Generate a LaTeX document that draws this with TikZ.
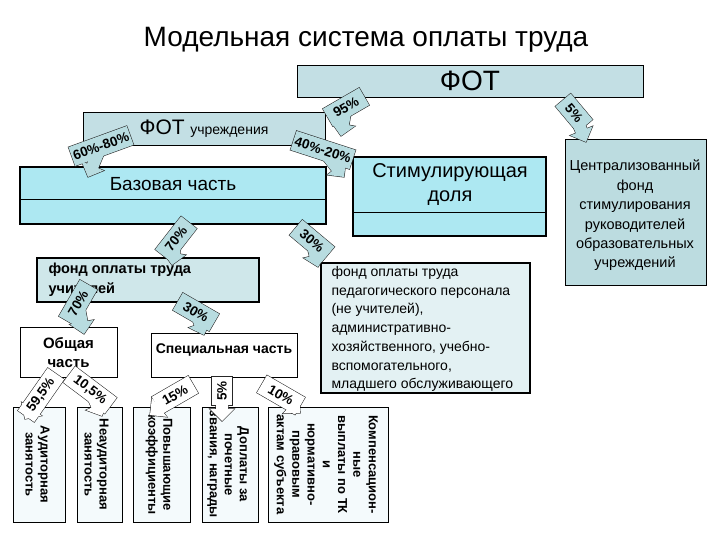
\documentclass[tikz,border=0pt]{standalone}
\usepackage{fontspec}
\setmainfont{Liberation Sans}
\usetikzlibrary{calc}
\definecolor{fotfill}{HTML}{C3DFE4}
\definecolor{basefill}{HTML}{ADE8F2}
\definecolor{centrfill}{HTML}{BCDCE0}
\definecolor{teachfill}{HTML}{CFE7EA}
\definecolor{pedfill}{HTML}{E3F1F3}
\definecolor{botfill}{HTML}{F4FAFC}
\definecolor{arrfill}{HTML}{B8DCE0}
\newcommand\fs[2]{\fontsize{#1}{#2}\selectfont}
\tikzset{
  thinbox/.style={draw=black, line width=0.8pt, inner sep=0pt},
  thickbox/.style={draw=black, line width=2pt, inner sep=0pt},
  pct/.style={font=\bfseries\fs{13.5}{15}, inner sep=0pt},
  vtext/.style={font=\bfseries\fs{13}{15}, align=center, rotate=-90, inner sep=0pt},
}
\newcommand\coshape[4]{%
  \path[#4, shift={(#1c)}, rotate=#2] (-#3,-10) rectangle (#3,10);
  \path[#4] ($(#1c)!6pt!90:(#1t)$) -- ($(#1h)!6pt!90:(#1t)$) -- ($(#1h)!12pt!90:(#1t)$) -- (#1t)
     -- ($(#1h)!12pt!-90:(#1t)$) -- ($(#1h)!6pt!-90:(#1t)$) -- ($(#1c)!6pt!-90:(#1t)$) -- cycle;
}
\newcommand\callout[7]{%
  \coordinate (#1c) at #2;
  \coordinate (#1t) at #4;
  \coordinate (#1h) at ($(#1t)!12pt!(#1c)$);
  \coshape{#1}{#3}{#5}{draw=black!85,line width=1.1pt}
  \coshape{#1}{#3}{#5}{fill=#7}
  \node[pct, rotate=#3] (#1) at (#1c) {#6};
}
\begin{document}
\begin{tikzpicture}[x=1pt, y=-1pt]
\useasboundingbox (0,0) rectangle (720,540);
\fill[white] (0,0) rectangle (720,540);

% title
\node[font=\fs{28}{32}] (title) at (366,40) {Модельная система оплаты труда};

% FOT
\node[thinbox, fill=fotfill, minimum width=346pt, minimum height=32pt] (fot) at (470,81) {\fs{28}{30}ФОТ};
\node[thinbox, fill=fotfill, minimum width=242pt, minimum height=33pt] (foty) at (204,128.5) {{\fs{21}{23}ФОТ}\ \ {\fs{14}{16}учреждения}};

% base part
\node[thickbox, fill=basefill, minimum width=306pt, minimum height=57pt] (base) at (173,195.5) {};
\draw[line width=0.8pt] (20,199) -- (326,199);
\node[font=\fs{19}{22}] (baset) at (173,184) {Базовая часть};

% stimulating
\node[thickbox, fill=basefill, minimum width=193pt, minimum height=79pt] (stim) at (449.5,196.5) {};
\draw[line width=0.8pt] (353,212) -- (546,212);
\node[font=\fs{20}{24}, align=center] (stimt) at (450,185) {Стимулирующая\\доля};

% centralized
\node[thinbox, fill=centrfill, minimum width=141pt, minimum height=146pt] (centr) at (635.5,212) {};
\node[font=\fs{14.5}{19.4}, align=center] (centrt) at (635,215.5) {Централизованный\\фонд\\стимулирования\\руководителей\\образовательных\\учреждений};

% teachers fund
\node[thickbox, fill=teachfill, minimum width=222pt, minimum height=44pt] (teach) at (148,280) {};
\node[font=\bfseries\fs{14.5}{20}, align=left, anchor=west] (teacht) at (45,280) {фонд оплаты труда\\учителей};

% pedagogical staff fund
\node[thickbox, fill=pedfill, minimum width=209pt, minimum height=130pt] (ped) at (425.5,328) {};
\node[font=\fs{14}{18.7}, align=left, anchor=west] (pedt) at (328,329) {фонд оплаты труда\\педагогического персонала\\(не учителей),\\административно-\\хозяйственного, учебно-\\вспомогательного,\\младшего обслуживающего};

% general / special
\node[thinbox, fill=white, minimum width=97pt, minimum height=50pt] (gen) at (68.5,352) {};
\node[font=\bfseries\fs{15}{19}, align=center] (gent) at (68.5,352.5) {Общая\\часть};
\node[thinbox, fill=white, minimum width=146pt, minimum height=44pt] (spec) at (224,355) {};
\node[font=\bfseries\fs{14}{16}] (spect) at (224,350) {Специальная часть};

% bottom boxes
\node[thinbox, fill=botfill, minimum width=52pt, minimum height=115pt] (b1) at (39,464.5) {};
\node[vtext] (b1t) at (37.5,464.5) {Аудиторная\\занятость};
\node[thinbox, fill=botfill, minimum width=45pt, minimum height=115pt] (b2) at (99.5,464.5) {};
\node[vtext] (b2t) at (96.5,464.5) {Неаудиторная\\занятость};
\node[thinbox, fill=botfill, minimum width=57pt, minimum height=115pt] (b3) at (161.5,464.5) {};
\node[vtext] (b3t) at (159,464.5) {Повышающие\\коэффициенты};
\node[thinbox, fill=botfill, minimum width=56pt, minimum height=115pt] (b4) at (230,464.5) {};
\node[vtext] (b4t) at (228,464.5) {Доплаты за\\почетные\\звания, награды};
\node[thinbox, fill=botfill, minimum width=120pt, minimum height=115pt] (b5) at (328,464.5) {};
\node[vtext, font=\bfseries\fs{13}{15.3}] (b5t) at (326,464.5) {Компенсацион-\\ные\\выплаты по ТК\\и\\нормативно-\\правовым\\актам субъекта};

% callout arrows
\callout{a1}{(346,107)}{30}{(341,136)}{21}{95\%}{arrfill}
\callout{a2}{(574,113)}{-50}{(586,142)}{17}{5\%}{arrfill}
\callout{a3}{(101,146)}{20}{(88,177)}{31}{60\%-80\%}{arrfill}
\callout{a4}{(323,150)}{-18}{(344,177)}{31}{40\%-20\%}{arrfill}
\callout{a5}{(176,239)}{52}{(172,265)}{21}{70\%}{arrfill}
\callout{a6}{(312,241)}{-40}{(318,267)}{21}{30\%}{arrfill}
\callout{a7}{(78,303)}{60}{(84,334)}{21}{70\%}{arrfill}
\callout{a8}{(196,312)}{-30}{(204,335)}{21}{30\%}{arrfill}
\callout{a9}{(41,395)}{55}{(25,419)}{26}{59,5\%}{white}
\callout{a10}{(90,390)}{-37}{(102,416)}{26}{10,5\%}{white}
\callout{a11}{(175,395)}{30}{(150,415)}{21}{15\%}{white}
\callout{a12}{(222,391)}{90}{(222,421)}{14}{5\%}{white}
\callout{a13}{(281,395)}{-30}{(300,413)}{22}{10\%}{white}
\end{tikzpicture}
\end{document}
